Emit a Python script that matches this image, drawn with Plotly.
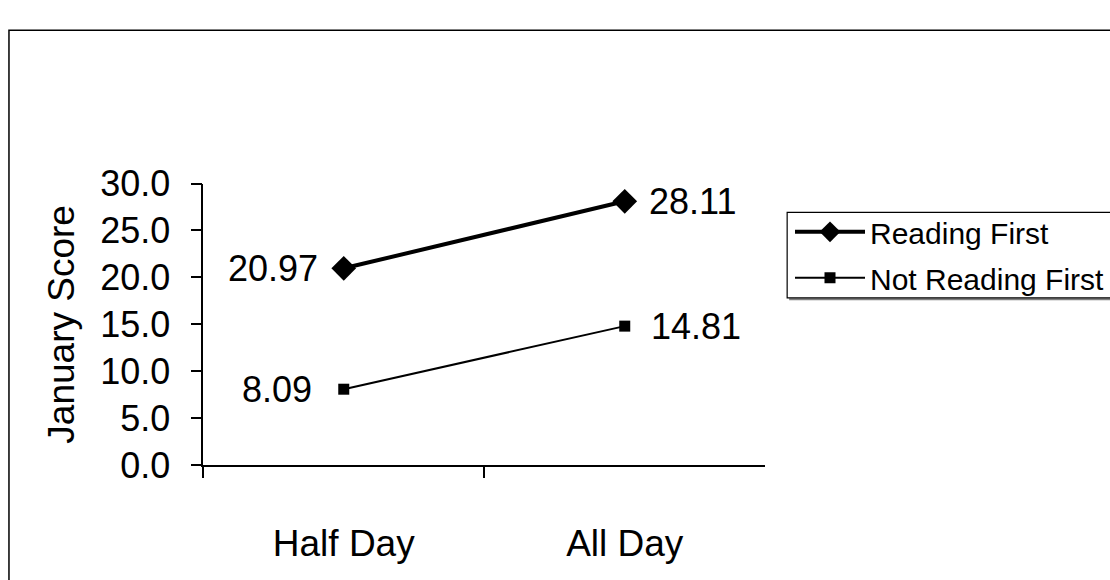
import plotly.graph_objects as go

# Scores by session length
categories = ["Half Day", "All Day"]
reading_first = [20.97, 28.11]
not_reading_first = [8.09, 14.81]
y_ticks = [0.0, 5.0, 10.0, 15.0, 20.0, 25.0, 30.0]

W, H = 1110, 580
FONT = "Liberation Sans, Arial, sans-serif"

# plot-area edges in pixels
left_px, right_px = 204, 768
top_px, bottom_px = 176, 479

# legend frame in pixels (runs past the right edge of the page)
leg_left, leg_top, leg_bottom = 790, 207, 299

series = [
    dict(name="Reading First", values=reading_first, width=4, symbol="diamond",
         size=19, gap_left=24, gap_right=22),
    dict(name="Not Reading First", values=not_reading_first, width=2, symbol="square",
         size=11, gap_left=30, gap_right=24),
]

fig = go.Figure()
annotations = []
for i, s in enumerate(series):
    fig.add_trace(go.Scatter(
        x=categories, y=s["values"], name=s["name"], legendgroup=f"g{i}",
        mode="lines+markers",
        line=dict(color="black", width=s["width"]),
        marker=dict(symbol=s["symbol"], size=s["size"], color="black"),
        cliponaxis=False,
    ))
    # value labels: first point labelled on its left, second on its right
    for j, (cat, v) in enumerate(zip(categories, s["values"])):
        left = j == 0
        annotations.append(dict(
            x=cat, y=v, xref="x", yref="y", text=f"{v:.2f}", showarrow=False,
            xanchor="right" if left else "left", yanchor="middle",
            xshift=-s["gap_left"] if left else s["gap_right"],
            font=dict(family=FONT, size=36, color="black"),
        ))

fig.update_layout(
    width=W, height=H,
    margin=dict(l=0, r=0, t=0, b=0),
    paper_bgcolor="white", plot_bgcolor="white",
    font=dict(family=FONT, color="black"),
    showlegend=True,
    legend=dict(
        x=793 / W, y=1 - 200 / H, xanchor="left", yanchor="top",
        borderwidth=0, bgcolor="rgba(0,0,0,0)",
        font=dict(family=FONT, size=30, color="black"),
        itemwidth=70, tracegroupgap=4,
    ),
    xaxis=dict(
        domain=[left_px / W, right_px / W],
        type="category", range=[-0.5, 1.5],
        showline=True, linecolor="black", linewidth=1.5,
        ticks="outside", ticklen=11, tickcolor="black", tickwidth=1.5,
        tickson="boundaries", showgrid=False, zeroline=False,
        tickfont=dict(family=FONT, size=37, color="black"),
        ticklabelstandoff=45,
    ),
    yaxis=dict(
        domain=[1 - bottom_px / H, 1 - top_px / H],
        range=[0, 30], tickvals=y_ticks,
        ticktext=[f"{v:.1f}" for v in y_ticks],
        showline=True, linecolor="black", linewidth=1.5,
        ticks="outside", ticklen=11, tickcolor="black", tickwidth=1.5,
        showgrid=False, zeroline=False,
        tickfont=dict(family=FONT, size=36, color="black"),
        ticklabelstandoff=13,
        title=dict(text="January Score", font=dict(family=FONT, size=37, color="black"),
                   standoff=14),
    ),
    annotations=annotations,
    shapes=[
        # outer chart frame
        dict(type="rect", xref="paper", yref="paper",
             x0=9 / W, x1=1.05, y0=-0.05, y1=1 - 11 / H,
             line=dict(color="black", width=1.5), fillcolor="rgba(0,0,0,0)",
             layer="below"),
        # legend shadow and frame
        dict(type="line", xref="paper", yref="paper",
             x0=(leg_left + 2) / W, x1=1.05,
             y0=1 - (leg_bottom + 1.5) / H, y1=1 - (leg_bottom + 1.5) / H,
             line=dict(color="#808080", width=2), layer="below"),
        dict(type="rect", xref="paper", yref="paper",
             x0=leg_left / W, x1=1.05, y0=1 - leg_bottom / H, y1=1 - leg_top / H,
             line=dict(color="black", width=1.2), fillcolor="white",
             layer="below"),
    ],
)

fig.write_html("out.html")
